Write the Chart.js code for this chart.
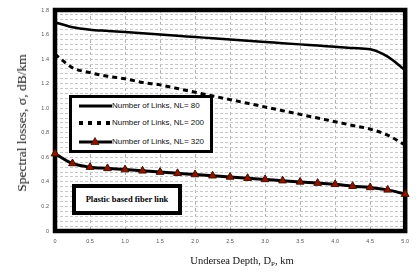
<!DOCTYPE html>
<html>
<head>
<meta charset="utf-8">
<script src="https://cdn.jsdelivr.net/npm/chart.js@4"></script>
<style>
  html, body { margin: 0; padding: 0; background: #fff; }
  #wrap { position: relative; width: 416px; height: 273px; overflow: hidden; }
  #myChart { position: absolute; left: 0; top: 0; }
  .legendBox {
    position: absolute; left: 69px; top: 95px; width: 138px; height: 52px;
    border: 3px solid #000; background: #fff;
    font-family: Arial, "Liberation Sans", sans-serif; font-size: 8px; letter-spacing: -0.05px; color: #111;
  }
  .legendRow { position: absolute; left: 6px; height: 12px; line-height: 12px; white-space: nowrap; }
  .legendRow svg { position: absolute; left: 0; top: 0; }
  .legendRow span { position: absolute; left: 34px; top: 0; }
  .noteBox {
    position: absolute; left: 72px; top: 184px; width: 102px; height: 23px;
    border: 4px solid #000; background: #fff;
    font-family: "Liberation Serif", "Times New Roman", serif; font-weight: bold;
    font-size: 8.5px; line-height: 23px; text-align: center; color: #000;
  }
  .yTitle {
    position: absolute; left: 22px; top: 123px; transform: translate(-50%, -50%) rotate(-90deg);
    font-family: "Liberation Serif", "Times New Roman", serif; font-size: 13.5px; white-space: nowrap; color: #111;
  }
  .xTitle {
    position: absolute; left: 242px; top: 261px; transform: translate(-50%, -50%);
    font-family: "Liberation Serif", "Times New Roman", serif; font-size: 10.5px; white-space: nowrap; color: #111;
  }
  .xTitle sub { font-size: 7px; vertical-align: -2px; }
</style>
</head>
<body>
<div id="wrap">
  <canvas id="myChart" width="416" height="273"></canvas>
  <div class="legendBox">
    <div class="legendRow" style="top:2px">
      <svg width="34" height="12"><line x1="1" y1="6" x2="34" y2="6" stroke="#000" stroke-width="3"/></svg>
      <span>Number of Links, NL= 80</span>
    </div>
    <div class="legendRow" style="top:19px">
      <svg width="34" height="12"><line x1="1" y1="6" x2="34" y2="6" stroke="#000" stroke-width="4" stroke-dasharray="4,5"/></svg>
      <span>Number of Links, NL= 200</span>
    </div>
    <div class="legendRow" style="top:38px">
      <svg width="34" height="12"><line x1="1" y1="6" x2="34" y2="6" stroke="#000" stroke-width="3"/><polygon points="17,1.5 21,8.5 13,8.5" fill="#8b1500" stroke="#4a1000" stroke-width="0.8"/></svg>
      <span>Number of Links, NL= 320</span>
    </div>
  </div>
  <div class="noteBox">Plastic based fiber link</div>
  <div class="yTitle">Spectral losses, σ, dB/km</div>
  <div class="xTitle">Undersea Depth, D<sub>P</sub>, km</div>
</div>

<script>
// 수심 (km)
const depth = [0, 0.25, 0.5, 0.75, 1, 1.25, 1.5, 1.75, 2, 2.25, 2.5, 2.75, 3, 3.25, 3.5, 3.75, 4, 4.25, 4.5, 4.75, 5];
// 스펙트럼 손실 (dB/km)
const loss80  = [1.70, 1.66, 1.64, 1.63, 1.62, 1.61, 1.60, 1.59, 1.58, 1.57, 1.56, 1.55, 1.54, 1.53, 1.52, 1.51, 1.50, 1.49, 1.48, 1.42, 1.31];
const loss200 = [1.44, 1.33, 1.29, 1.26, 1.24, 1.21, 1.19, 1.16, 1.13, 1.10, 1.07, 1.04, 1.01, 0.98, 0.95, 0.92, 0.89, 0.86, 0.83, 0.78, 0.70];
const loss320 = [0.63, 0.55, 0.52, 0.51, 0.50, 0.49, 0.48, 0.47, 0.46, 0.45, 0.44, 0.43, 0.42, 0.41, 0.40, 0.39, 0.38, 0.365, 0.355, 0.335, 0.30];
const seriesLabels = ['Number of Links, NL= 80', 'Number of Links, NL= 200', 'Number of Links, NL= 320'];
const yTicks = { min: 0, max: 1.8, step: 0.2, minorStep: 0.04 };
const xTicks = { min: 0, max: 5, step: 0.5 };

function toPoints(ys) {
    return depth.map((d, i) => ({ x: d, y: ys[i] }));
}

// 그래프 테두리 (굵은 검정 박스)
const frame = {
    id: 'frame',
    beforeDatasetsDraw(chart) {
        const { ctx, chartArea: a } = chart;
        ctx.save();
        ctx.strokeStyle = '#000';
        ctx.lineWidth = 4.5;
        ctx.strokeRect(a.left, a.top, a.right - a.left, a.bottom - a.top);
        ctx.restore();
    }
};

const ctx = document.getElementById('myChart').getContext('2d');
const myChart = new Chart(ctx, {
    type: 'line',
    data: {
        datasets: [{
            label: seriesLabels[0],
            data: toPoints(loss80),
            borderColor: '#000',
            borderWidth: 2.5,
            pointRadius: 0,
            cubicInterpolationMode: 'monotone',
            clip: false
        }, {
            label: seriesLabels[1],
            data: toPoints(loss200),
            borderColor: '#000',
            borderWidth: 3,
            borderDash: [5, 4],
            pointRadius: 0,
            cubicInterpolationMode: 'monotone',
            clip: false
        }, {
            label: seriesLabels[2],
            data: toPoints(loss320),
            borderColor: '#000',
            borderWidth: 3,
            pointStyle: 'triangle',
            pointRadius: 4.5,
            pointBackgroundColor: '#8b1500',
            pointBorderColor: '#4a1000',
            pointBorderWidth: 1,
            cubicInterpolationMode: 'monotone',
            clip: false
        }]
    },
    options: {
        responsive: false,
        animation: false,
        layout: { padding: { top: 10, right: 9, left: 0, bottom: 0 } },
        plugins: { legend: { display: false }, tooltip: { enabled: false } },
        scales: {
            x: {
                type: 'linear',
                min: xTicks.min,
                max: xTicks.max,
                ticks: { stepSize: xTicks.step, color: '#555', font: { size: 5.5 }, padding: 7, maxRotation: 0 },
                grid: { color: '#b0b0b0', lineWidth: 1, drawTicks: false },
                border: { display: false, dash: [3, 3] },
                afterFit: (s) => { s.height = 42; }
            },
            y: {
                min: yTicks.min,
                max: yTicks.max,
                ticks: { stepSize: yTicks.step, color: '#555', font: { size: 5.5 }, padding: 6 },
                grid: { color: '#b0b0b0', lineWidth: 1, drawTicks: false },
                border: { display: false, dash: [3, 2] },
                afterFit: (s) => { s.width = 55; }
            },
            yMinor: {
                position: 'left',
                min: yTicks.min,
                max: yTicks.max,
                ticks: { stepSize: yTicks.minorStep, display: false },
                grid: { color: '#c8c8c8', lineWidth: 1, drawTicks: false },
                border: { display: false, dash: [3, 2] },
                afterFit: (s) => { s.width = 0; }
            }
        }
    },
    plugins: [frame]
});
</script>
</body>
</html>
